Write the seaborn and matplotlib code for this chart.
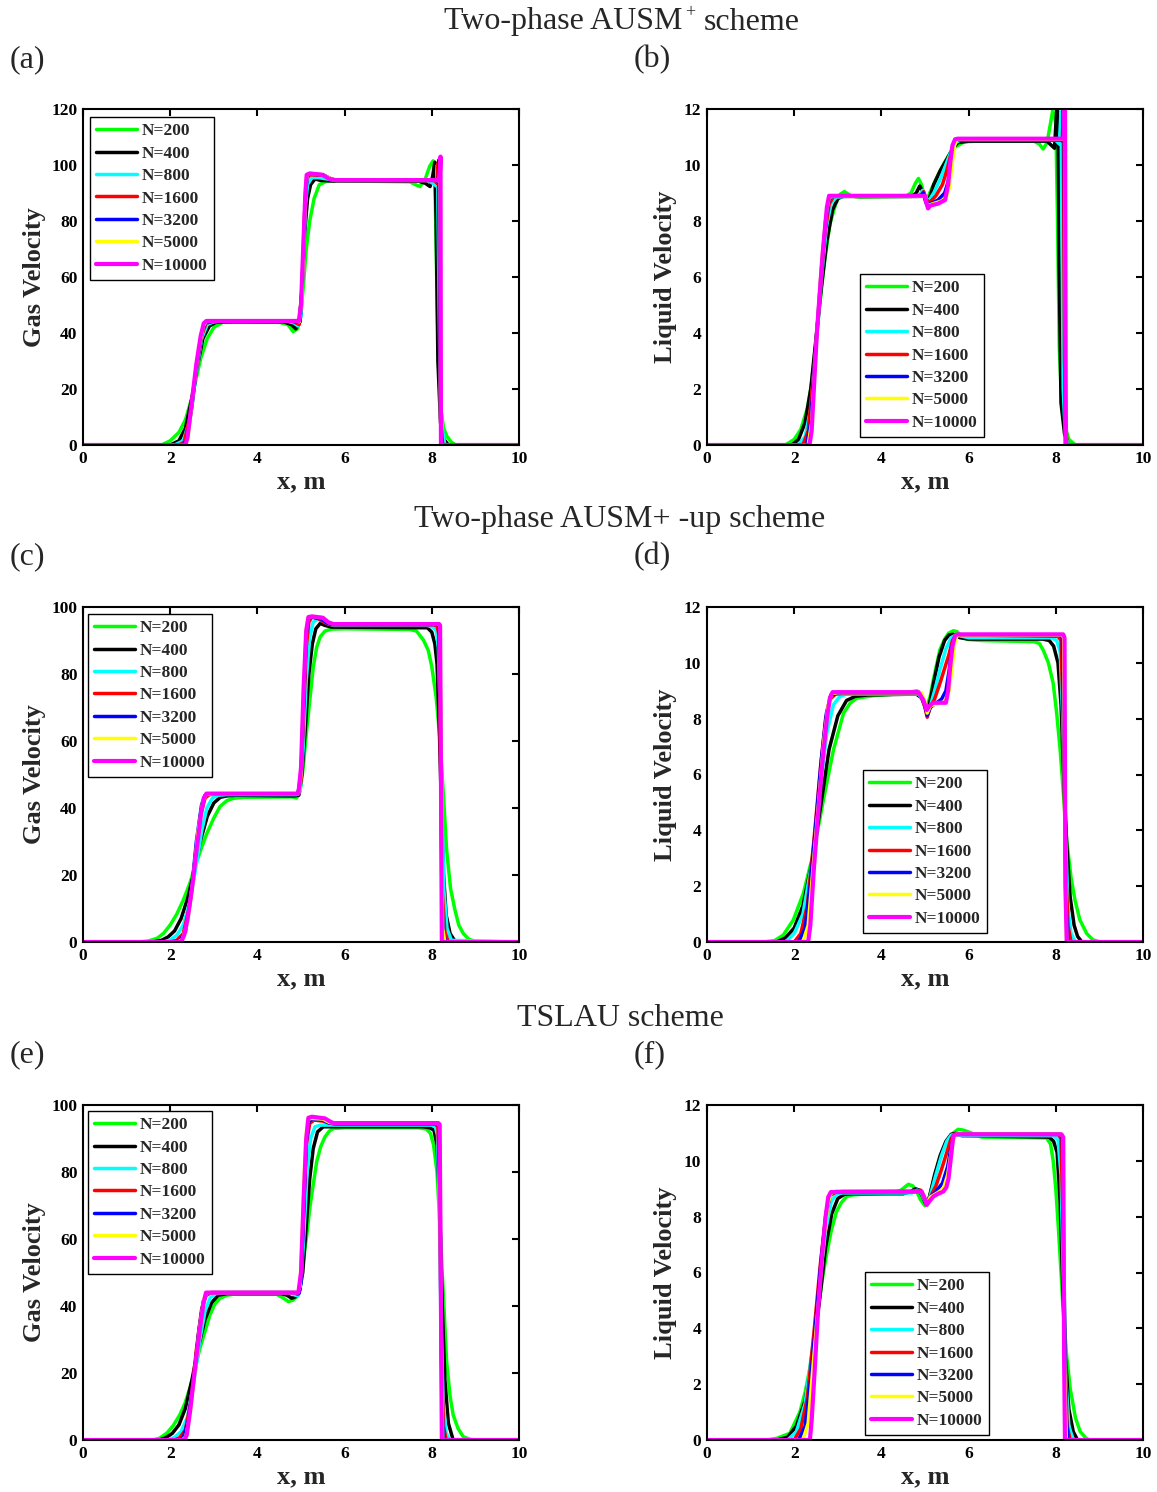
import matplotlib
matplotlib.use('Agg')
import matplotlib.pyplot as plt
import seaborn as sns

# ---------------- data ----------------
labels = ['N=200', 'N=400', 'N=800', 'N=1600', 'N=3200', 'N=5000', 'N=10000']
colors = ['#00ff00', '#000000', '#00ffff', '#ff0000', '#0000ff', '#ffff00', '#ff00ff']
x_ticks = [0, 2, 4, 6, 8, 10]
gas_ticks_a = [0, 20, 40, 60, 80, 100, 120]
gas_ticks = [0, 20, 40, 60, 80, 100]
liq_ticks = [0, 2, 4, 6, 8, 10, 12]

# (a) gas velocity, two-phase AUSM+
a200_x = [0, 1.8, 2.0, 2.2, 2.35, 2.5, 2.6, 2.7, 2.85, 3.0, 3.2, 3.5, 4.5, 4.7, 4.82, 4.92, 5.0, 5.06, 5.12, 5.2, 5.3, 5.42, 5.6, 6.0, 7.5, 7.62, 7.73, 7.85, 7.95, 8.03, 8.07, 8.1, 8.15, 8.2, 8.27, 8.35, 8.45, 8.55, 10]
a200_y = [0, 0, 1.5, 4.5, 9, 17, 24, 31, 38, 42, 43.8, 44, 43.8, 43, 40.5, 41.5, 47, 58, 70, 80, 88, 93, 94.3, 94.3, 94, 93, 92.3, 95, 99.5, 101.5, 97, 70, 30, 14, 6, 3, 1, 0, 0]
a400_x = [0, 2.0, 2.2, 2.35, 2.5, 2.62, 2.75, 2.9, 3.05, 3.3, 4.6, 4.78, 4.88, 4.96, 5.02, 5.08, 5.15, 5.22, 5.32, 5.45, 5.7, 7.7, 7.85, 7.96, 8.02, 8.07, 8.1, 8.14, 8.2, 8.28, 8.38, 10]
a400_y = [0, 0, 1.5, 6, 17, 28, 38, 42.5, 43.8, 44, 44, 43, 41.5, 44, 55, 75, 88, 93, 95, 94.5, 94.3, 94.2, 93.5, 92.3, 96, 101, 80, 30, 8, 2, 0, 0]
a800_x = [0, 2.1, 2.3, 2.45, 2.6, 2.72, 2.85, 3.0, 3.2, 4.7, 4.85, 4.93, 5.0, 5.05, 5.1, 5.15, 5.25, 5.4, 5.6, 5.8, 7.9, 8.02, 8.1, 8.13, 8.16, 8.2, 8.3, 10]
a800_y = [0, 0, 1.5, 9, 26, 38, 43, 44, 44.2, 44.2, 43.5, 42.5, 46, 65, 85, 93, 95.5, 95.5, 95, 94.5, 94.5, 93.5, 92.5, 100, 60, 10, 0, 0]
a1600_x = [0, 2.2, 2.32, 2.45, 2.6, 2.72, 2.82, 3.0, 4.8, 4.9, 4.96, 5.02, 5.08, 5.13, 5.2, 5.5, 5.7, 5.8, 8.05, 8.12, 8.15, 8.17, 8.2, 8.25, 10]
a1600_y = [0, 0, 1, 10, 27, 39, 43.5, 44.2, 44.2, 43.5, 43, 55, 82, 95, 96.5, 96.3, 95, 94.5, 94.5, 93.5, 101, 70, 10, 0, 0]
a3200_x = [0, 2.28, 2.38, 2.5, 2.62, 2.74, 2.82, 3.0, 4.85, 4.93, 4.98, 5.04, 5.1, 5.14, 5.2, 5.5, 5.7, 5.8, 8.1, 8.15, 8.17, 8.19, 8.22, 10]
a3200_y = [0, 0, 1.5, 14, 30, 41, 44, 44.2, 44.2, 43.8, 44, 60, 88, 96, 96.8, 96.5, 95, 94.5, 94.5, 94, 102, 40, 0, 0]
a5000_x = [0, 2.32, 2.4, 2.52, 2.64, 2.76, 2.83, 3.0, 4.9, 4.96, 5.02, 5.07, 5.11, 5.14, 5.2, 5.5, 5.7, 5.8, 8.13, 8.17, 8.19, 8.21, 10]
a5000_y = [0, 0, 1.5, 18, 33, 42.5, 44.2, 44.2, 44.2, 44, 52, 75, 92, 96.5, 97, 96.5, 95, 94.5, 94.5, 94.3, 102.5, 0, 0]
a10000_x = [0, 2.35, 2.4, 2.5, 2.6, 2.7, 2.77, 2.83, 4.95, 5.0, 5.05, 5.1, 5.13, 5.2, 5.5, 5.65, 5.8, 8.18, 8.2, 8.21, 10]
a10000_y = [0, 0, 3, 16, 29, 39, 43.5, 44.3, 44.3, 50, 70, 90, 96.5, 97, 96.5, 95, 94.6, 94.6, 103, 0, 0]

# (b) liquid velocity, two-phase AUSM+
b200_x = [0, 1.8, 2.0, 2.15, 2.3, 2.4, 2.5, 2.6, 2.7, 2.82, 2.95, 3.05, 3.15, 3.3, 3.5, 4.55, 4.68, 4.78, 4.85, 4.92, 4.98, 5.04, 5.15, 5.3, 5.45, 5.57, 5.7, 5.9, 6.2, 7.5, 7.62, 7.71, 7.8, 7.88, 7.93, 8.0, 8.04, 8.08, 8.13, 8.2, 8.3, 8.45, 10]
b200_y = [0, 0, 0.2, 0.55, 1.3, 2.2, 3.7, 5.2, 6.6, 7.9, 8.6, 8.95, 9.05, 8.9, 8.85, 8.88, 9.0, 9.35, 9.52, 9.3, 8.9, 8.75, 9.15, 9.65, 10.1, 10.4, 10.65, 10.83, 10.85, 10.85, 10.75, 10.57, 10.8, 11.5, 11.95, 11.5, 8, 3.5, 1.6, 0.7, 0.2, 0, 0]
b400_x = [0, 1.95, 2.1, 2.25, 2.38, 2.5, 2.62, 2.75, 2.88, 3.0, 3.15, 3.4, 4.7, 4.8, 4.88, 4.95, 5.02, 5.08, 5.2, 5.35, 5.5, 5.62, 5.75, 6.0, 7.8, 7.9, 7.97, 8.02, 8.05, 8.08, 8.12, 8.2, 8.3, 10]
b400_y = [0, 0, 0.2, 0.8, 2.0, 3.8, 5.6, 7.3, 8.4, 8.8, 8.9, 8.88, 8.88, 9.0, 9.25, 9.05, 8.75, 8.7, 9.3, 9.8, 10.2, 10.55, 10.8, 10.85, 10.85, 10.7, 10.6, 11.95, 11.9, 6, 1.5, 0.4, 0, 0]
b800_x = [0, 2.1, 2.25, 2.38, 2.5, 2.62, 2.74, 2.85, 2.97, 3.2, 4.8, 4.88, 4.95, 5.0, 5.08, 5.2, 5.35, 5.5, 5.6, 5.7, 5.8, 6.0, 8.0, 8.08, 8.12, 8.14, 8.17, 8.22, 8.3, 10]
b800_y = [0, 0, 0.3, 1.3, 3.5, 5.9, 7.8, 8.65, 8.85, 8.88, 8.88, 8.95, 9.1, 8.9, 8.7, 9.0, 9.5, 10.1, 10.5, 10.8, 10.88, 10.88, 10.88, 10.75, 11.9, 8, 2, 0.3, 0, 0]
b1600_x = [0, 2.2, 2.32, 2.45, 2.58, 2.7, 2.8, 2.9, 3.1, 4.85, 4.92, 4.97, 5.02, 5.1, 5.25, 5.4, 5.5, 5.58, 5.65, 5.72, 5.85, 8.1, 8.15, 8.17, 8.2, 8.25, 10]
b1600_y = [0, 0, 0.5, 2.6, 5.2, 7.5, 8.6, 8.88, 8.88, 8.88, 8.95, 9.05, 8.8, 8.65, 8.9, 9.3, 9.8, 10.3, 10.75, 10.88, 10.9, 10.9, 10.85, 12, 3, 0, 0]
b3200_x = [0, 2.28, 2.38, 2.5, 2.62, 2.72, 2.8, 2.9, 3.1, 4.9, 4.96, 5.02, 5.1, 5.3, 5.45, 5.53, 5.6, 5.66, 5.72, 5.85, 8.13, 8.17, 8.19, 8.22, 10]
b3200_y = [0, 0, 0.8, 3.6, 6.2, 8.0, 8.8, 8.88, 8.88, 8.88, 9.0, 8.65, 8.6, 8.75, 9.0, 9.4, 10.1, 10.7, 10.88, 10.9, 10.9, 10.9, 12, 0, 0]
b5000_x = [0, 2.32, 2.4, 2.52, 2.64, 2.74, 2.8, 2.9, 3.1, 4.95, 5.0, 5.05, 5.15, 5.35, 5.48, 5.56, 5.62, 5.68, 5.73, 5.85, 8.15, 8.18, 8.2, 8.23, 10]
b5000_y = [0, 0, 0.8, 4.0, 6.7, 8.3, 8.85, 8.88, 8.88, 8.88, 8.9, 8.55, 8.6, 8.7, 8.8, 9.2, 10.0, 10.7, 10.9, 10.92, 10.92, 10.92, 12, 0, 0]
b10000_x = [0, 2.35, 2.4, 2.52, 2.65, 2.75, 2.8, 5.0, 5.04, 5.07, 5.12, 5.3, 5.46, 5.53, 5.58, 5.63, 5.69, 5.75, 8.18, 8.21, 8.23, 10]
b10000_y = [0, 0, 0.5, 4.0, 6.8, 8.5, 8.9, 8.9, 8.6, 8.45, 8.55, 8.62, 8.75, 9.3, 10.1, 10.7, 10.92, 10.94, 10.94, 12.8, 0, 0]

# (c) gas velocity, two-phase AUSM+-up
c200_x = [0, 1.3, 1.5, 1.7, 1.85, 2.0, 2.15, 2.3, 2.45, 2.57, 2.7, 2.84, 3.0, 3.14, 3.3, 3.45, 3.7, 4.8, 4.9, 4.98, 5.05, 5.12, 5.2, 5.28, 5.36, 5.44, 5.55, 5.7, 6.0, 7.5, 7.65, 7.81, 7.92, 8.0, 8.1, 8.19, 8.27, 8.34, 8.43, 8.53, 8.62, 8.72, 8.85, 9.0, 10]
c200_y = [0, 0, 0.3, 1.1, 2.6, 5.1, 8.3, 12.5, 17.5, 22.5, 27.5, 32.4, 37.0, 40.4, 42.2, 42.9, 43.2, 43.3, 43.0, 45, 52, 62, 72, 82, 88, 91.1, 92.8, 93.4, 93.5, 93.3, 92.8, 90.1, 87, 82.2, 73, 60.3, 43, 27.5, 16, 9.6, 5, 2.6, 0.8, 0.2, 0]
c400_x = [0, 1.6, 1.8, 1.95, 2.1, 2.25, 2.4, 2.55, 2.7, 2.85, 3.0, 3.15, 3.3, 3.5, 4.85, 4.95, 5.02, 5.1, 5.18, 5.26, 5.34, 5.44, 5.55, 5.7, 7.9, 8.0, 8.07, 8.12, 8.17, 8.22, 8.27, 8.33, 8.42, 8.52, 8.62, 10]
c400_y = [0, 0, 0.5, 1.5, 3.3, 7, 13, 21, 30.5, 37.5, 41.5, 43.2, 43.6, 43.8, 43.6, 43.8, 50, 64, 80, 89, 93.5, 95.1, 94.5, 94, 93.8, 92.5, 89, 83, 65, 40, 20, 8, 2.5, 0.5, 0, 0]
c800_x = [0, 1.85, 2.0, 2.15, 2.3, 2.45, 2.6, 2.72, 2.84, 2.97, 3.1, 3.3, 4.9, 4.98, 5.05, 5.12, 5.2, 5.28, 5.38, 5.5, 5.62, 5.75, 7.9, 8.02, 8.1, 8.15, 8.19, 8.23, 8.28, 8.35, 8.45, 10]
c800_y = [0, 0, 0.6, 2, 5, 12, 23, 33, 40, 43, 43.8, 44, 44, 45, 58, 78, 91, 95.5, 96.3, 95.8, 95, 94.5, 94.5, 94, 93, 88, 70, 40, 15, 4, 0.5, 0]
c1600_x = [0, 2.0, 2.15, 2.3, 2.45, 2.6, 2.7, 2.8, 2.9, 3.1, 4.92, 5.0, 5.06, 5.12, 5.18, 5.25, 5.4, 5.55, 5.7, 8.05, 8.12, 8.16, 8.2, 8.24, 8.3, 8.38, 10]
c1600_y = [0, 0, 0.5, 2.5, 11, 28, 38, 43, 44, 44.2, 44.2, 48, 68, 88, 95.5, 97, 96.5, 95.3, 94.7, 94.7, 94.3, 92, 55, 15, 3, 0, 0]
c3200_x = [0, 2.1, 2.22, 2.35, 2.48, 2.6, 2.72, 2.8, 2.9, 3.1, 4.93, 5.0, 5.06, 5.12, 5.17, 5.25, 5.45, 5.6, 5.72, 8.12, 8.17, 8.2, 8.23, 8.27, 8.33, 10]
c3200_y = [0, 0, 0.5, 3, 14, 30, 41, 43.8, 44.2, 44.2, 44.2, 50, 72, 92, 96.5, 97, 96.5, 95.2, 94.8, 94.8, 94.5, 70, 15, 2, 0, 0]
c5000_x = [0, 2.18, 2.28, 2.4, 2.52, 2.64, 2.75, 2.82, 3.0, 4.94, 5.0, 5.06, 5.12, 5.16, 5.25, 5.5, 5.65, 5.75, 8.15, 8.19, 8.22, 8.25, 8.3, 10]
c5000_y = [0, 0, 0.8, 6, 18, 33, 42, 44, 44.2, 44.2, 50, 75, 93, 96.8, 97.2, 96.8, 95.3, 94.9, 94.9, 94.5, 40, 4, 0, 0]
c10000_x = [0, 2.25, 2.32, 2.4, 2.5, 2.6, 2.7, 2.77, 2.83, 4.94, 5.0, 5.06, 5.12, 5.17, 5.25, 5.5, 5.62, 5.74, 8.17, 8.19, 8.21, 8.23, 10]
c10000_y = [0, 0, 2, 7, 16, 27, 37.5, 43, 44.3, 44.3, 52, 76, 93, 97, 97.2, 96.8, 95.5, 94.9, 94.9, 94.5, 50, 0, 0]

# (d) liquid velocity, two-phase AUSM+-up
d200_x = [0, 1.3, 1.55, 1.75, 1.98, 2.21, 2.44, 2.67, 2.9, 3.13, 3.28, 3.43, 3.8, 4.5, 4.81, 4.92, 5.04, 5.12, 5.19, 5.34, 5.45, 5.54, 5.65, 5.73, 5.85, 5.96, 6.3, 7.49, 7.62, 7.71, 7.83, 7.94, 8.02, 8.1, 8.18, 8.25, 8.35, 8.44, 8.55, 8.71, 8.85, 9.01, 10]
d200_y = [0, 0, 0.05, 0.25, 0.79, 1.74, 3.18, 5.09, 6.88, 8.19, 8.55, 8.73, 8.82, 8.9, 9.0, 8.85, 8.43, 8.8, 9.38, 10.46, 10.85, 11.06, 11.15, 11.12, 10.95, 10.84, 10.8, 10.76, 10.7, 10.46, 10.0, 9.27, 8.2, 6.88, 5.2, 3.65, 2.3, 1.5, 0.8, 0.3, 0.08, 0, 0]
d400_x = [0, 1.6, 1.8, 2.0, 2.2, 2.4, 2.6, 2.8, 3.0, 3.2, 3.4, 3.7, 4.8, 4.92, 5.04, 5.1, 5.2, 5.32, 5.45, 5.55, 5.65, 5.8, 6.0, 7.7, 7.85, 7.95, 8.05, 8.12, 8.18, 8.25, 8.33, 8.42, 8.5, 8.6, 10]
d400_y = [0, 0, 0.15, 0.5, 1.3, 2.8, 4.8, 6.9, 8.1, 8.65, 8.8, 8.85, 8.88, 8.75, 8.25, 8.5, 9.3, 10.2, 10.8, 11.0, 11.02, 10.9, 10.85, 10.85, 10.8, 10.6, 10.0, 8.5, 6, 3.5, 1.6, 0.6, 0.2, 0, 0]
d800_x = [0, 1.8, 2.0, 2.2, 2.4, 2.6, 2.75, 2.9, 3.05, 3.2, 3.4, 4.85, 4.95, 5.05, 5.12, 5.22, 5.35, 5.48, 5.6, 5.7, 5.85, 6.0, 7.9, 8.02, 8.1, 8.16, 8.22, 8.28, 8.35, 8.45, 10]
d800_y = [0, 0, 0.3, 1.0, 2.8, 5.6, 7.5, 8.5, 8.8, 8.88, 8.88, 8.88, 8.7, 8.2, 8.45, 9.0, 9.8, 10.5, 10.9, 11.0, 10.95, 10.9, 10.9, 10.8, 10.4, 8, 4, 1.2, 0.3, 0, 0]
d1600_x = [0, 2.0, 2.15, 2.3, 2.45, 2.6, 2.72, 2.82, 2.95, 3.1, 4.88, 4.97, 5.05, 5.12, 5.22, 5.35, 5.45, 5.55, 5.63, 5.72, 5.85, 8.05, 8.12, 8.17, 8.22, 8.28, 8.35, 10]
d1600_y = [0, 0, 0.3, 1.3, 3.6, 6.2, 8.0, 8.7, 8.88, 8.9, 8.9, 8.6, 8.05, 8.4, 8.7, 9.3, 9.8, 10.3, 10.8, 11.0, 11.0, 10.95, 10.8, 8, 3, 0.6, 0, 0]
d3200_x = [0, 2.1, 2.25, 2.38, 2.5, 2.62, 2.74, 2.84, 2.95, 3.1, 4.9, 4.98, 5.05, 5.12, 5.25, 5.38, 5.48, 5.56, 5.62, 5.7, 5.85, 8.1, 8.15, 8.19, 8.23, 8.28, 10]
d3200_y = [0, 0, 0.5, 2.2, 4.3, 6.5, 8.2, 8.85, 8.9, 8.92, 8.92, 8.6, 8.12, 8.4, 8.55, 8.7, 9.0, 9.8, 10.6, 11.0, 11.0, 11.0, 10.9, 7, 1.5, 0, 0]
d5000_x = [0, 2.2, 2.32, 2.44, 2.56, 2.68, 2.78, 2.86, 3.0, 4.92, 5.0, 5.05, 5.12, 5.3, 5.45, 5.55, 5.62, 5.68, 5.74, 5.85, 8.14, 8.18, 8.21, 8.25, 10]
d5000_y = [0, 0, 0.6, 2.8, 5.0, 7.2, 8.5, 8.9, 8.93, 8.93, 8.6, 8.2, 8.45, 8.55, 8.6, 9.0, 9.8, 10.7, 11.0, 11.0, 11.0, 10.9, 4, 0, 0]
d10000_x = [0, 2.32, 2.37, 2.45, 2.55, 2.65, 2.75, 2.82, 2.88, 4.85, 4.96, 5.04, 5.1, 5.19, 5.3, 5.48, 5.53, 5.58, 5.63, 5.69, 5.75, 8.17, 8.2, 8.22, 8.25, 10]
d10000_y = [0, 0, 0.6, 2.6, 4.6, 6.5, 8.0, 8.75, 8.95, 8.95, 8.67, 8.31, 8.45, 8.57, 8.57, 8.57, 9.0, 9.9, 10.6, 10.98, 11.02, 11.02, 10.9, 2, 0, 0]

# (e) gas velocity, TSLAU
e200_x = [0, 1.6, 1.75, 1.92, 2.07, 2.22, 2.34, 2.45, 2.57, 2.68, 2.8, 2.91, 3.02, 3.14, 3.3, 3.45, 4.44, 4.58, 4.71, 4.82, 4.94, 5.05, 5.13, 5.21, 5.29, 5.36, 5.45, 5.55, 5.65, 5.74, 6.0, 7.7, 7.88, 7.97, 8.04, 8.12, 8.19, 8.27, 8.34, 8.42, 8.49, 8.6, 8.72, 8.85, 8.95, 10]
e200_y = [0, 0, 0.5, 2.0, 4.3, 7.5, 11, 15.4, 21, 27.4, 32.5, 37.3, 40.5, 42.3, 43.2, 43.5, 43.5, 42.5, 41.3, 41.8, 43.3, 53.2, 61, 70.1, 77, 83.1, 87.5, 90.5, 92.2, 93.0, 93.2, 93.2, 92.8, 91.5, 88.1, 80, 63.2, 42, 23.4, 13, 7.5, 3.5, 1.0, 0.3, 0, 0]
e400_x = [0, 1.75, 1.9, 2.05, 2.2, 2.35, 2.5, 2.65, 2.8, 2.95, 3.1, 3.3, 4.55, 4.68, 4.79, 4.88, 4.96, 5.04, 5.12, 5.2, 5.28, 5.38, 5.51, 5.7, 7.8, 7.95, 8.05, 8.12, 8.18, 8.24, 8.3, 8.38, 8.49, 10]
e400_y = [0, 0, 0.7, 2, 4.5, 9.5, 18, 28, 36, 41, 43.2, 43.7, 43.7, 43.2, 42.3, 42.8, 44, 50, 64, 78, 87, 92, 93.5, 93.5, 93.5, 93.2, 92.5, 88, 70, 40, 18, 5, 0, 0]
e800_x = [0, 1.95, 2.1, 2.25, 2.4, 2.55, 2.68, 2.8, 2.92, 3.05, 3.3, 4.75, 4.85, 4.93, 5.0, 5.07, 5.14, 5.22, 5.32, 5.45, 5.6, 5.75, 8.0, 8.08, 8.13, 8.17, 8.21, 8.26, 8.33, 8.42, 10]
e800_y = [0, 0, 0.8, 2.5, 7, 18, 30, 38.5, 42.5, 43.7, 44, 44, 43.3, 43, 47, 62, 80, 90, 93.5, 94, 94, 94, 94, 93.5, 91, 70, 35, 12, 2, 0, 0]
e1600_x = [0, 2.1, 2.22, 2.35, 2.48, 2.6, 2.72, 2.82, 2.95, 3.1, 4.85, 4.92, 4.98, 5.05, 5.12, 5.2, 5.3, 5.5, 5.65, 5.8, 8.08, 8.14, 8.18, 8.22, 8.27, 8.33, 10]
e1600_y = [0, 0, 0.7, 3, 12, 27, 39, 43.2, 44, 44, 44, 43.5, 45, 65, 88, 94.5, 95.5, 95.2, 94.6, 94.3, 94.3, 93.5, 75, 25, 4, 0, 0]
e3200_x = [0, 2.2, 2.3, 2.42, 2.54, 2.66, 2.76, 2.84, 2.95, 3.1, 4.88, 4.95, 5.0, 5.06, 5.12, 5.18, 5.25, 5.5, 5.65, 5.8, 8.12, 8.17, 8.2, 8.23, 8.28, 10]
e3200_y = [0, 0, 0.8, 6, 18, 33, 41.5, 43.8, 44, 44, 44, 43.7, 47, 68, 89, 95, 95.8, 95.5, 94.6, 94.4, 94.4, 93.5, 60, 10, 0, 0]
e5000_x = [0, 2.28, 2.36, 2.46, 2.57, 2.68, 2.78, 2.85, 3.0, 4.92, 4.98, 5.04, 5.1, 5.15, 5.22, 5.5, 5.65, 5.78, 8.14, 8.18, 8.21, 8.25, 10]
e5000_y = [0, 0, 1, 8, 21, 34, 42.5, 44, 44, 44, 46, 66, 88, 95.5, 96, 95.8, 94.8, 94.5, 94.5, 93.8, 40, 0, 0]
e10000_x = [0, 2.33, 2.38, 2.46, 2.57, 2.68, 2.76, 2.82, 4.94, 5.0, 5.06, 5.12, 5.17, 5.25, 5.55, 5.65, 5.74, 8.15, 8.18, 8.2, 8.23, 10]
e10000_y = [0, 0, 1.5, 9, 21.5, 33, 40.5, 44, 44, 50, 72, 90, 96.2, 96.5, 96, 95.2, 94.6, 94.6, 94.2, 60, 0, 0]

# (f) liquid velocity, TSLAU
f200_x = [0, 1.37, 1.6, 1.9, 2.13, 2.25, 2.36, 2.45, 2.55, 2.65, 2.74, 2.85, 2.97, 3.08, 3.2, 3.35, 3.51, 4.27, 4.45, 4.62, 4.72, 4.81, 4.9, 5.0, 5.1, 5.19, 5.34, 5.45, 5.54, 5.65, 5.76, 5.88, 5.99, 6.3, 7.79, 7.88, 7.94, 8.0, 8.06, 8.12, 8.17, 8.25, 8.33, 8.45, 8.56, 8.7, 8.78, 10]
f200_y = [0, 0, 0.06, 0.24, 1.0, 1.7, 2.57, 3.5, 4.72, 5.8, 6.63, 7.5, 8.18, 8.5, 8.72, 8.78, 8.8, 8.85, 8.95, 9.16, 9.1, 8.9, 8.6, 8.39, 8.7, 9.25, 10.09, 10.5, 10.8, 11.0, 11.13, 11.1, 11.04, 10.85, 10.82, 10.6, 10.0, 9.0, 7.58, 6, 4.6, 3.0, 1.85, 0.8, 0.3, 0.05, 0, 0]
f400_x = [0, 1.6, 1.85, 2.05, 2.25, 2.42, 2.58, 2.72, 2.86, 3.0, 3.15, 3.35, 4.5, 4.65, 4.78, 4.87, 4.95, 5.02, 5.1, 5.22, 5.35, 5.48, 5.6, 5.7, 5.85, 7.85, 7.95, 8.03, 8.1, 8.16, 8.22, 8.3, 8.4, 8.5, 10]
f400_y = [0, 0, 0.1, 0.5, 1.4, 3.0, 5.0, 6.9, 8.1, 8.65, 8.8, 8.82, 8.82, 8.88, 9.0, 8.95, 8.7, 8.45, 8.7, 9.5, 10.2, 10.7, 10.95, 10.98, 10.9, 10.85, 10.7, 10.3, 8.5, 5.5, 3.0, 1.1, 0.3, 0, 0]
f800_x = [0, 1.85, 2.05, 2.25, 2.42, 2.58, 2.72, 2.85, 2.97, 3.1, 3.3, 4.7, 4.82, 4.9, 4.97, 5.04, 5.12, 5.25, 5.38, 5.5, 5.6, 5.7, 5.85, 7.95, 8.05, 8.12, 8.17, 8.23, 8.3, 8.4, 10]
f800_y = [0, 0, 0.3, 1.3, 3.3, 5.6, 7.5, 8.55, 8.8, 8.85, 8.85, 8.85, 8.95, 8.9, 8.65, 8.45, 8.75, 9.5, 10.2, 10.7, 10.92, 10.95, 10.9, 10.9, 10.75, 9.5, 6, 2.2, 0.5, 0, 0]
f1600_x = [0, 2.0, 2.15, 2.3, 2.45, 2.6, 2.72, 2.82, 2.95, 3.1, 4.8, 4.9, 4.97, 5.04, 5.12, 5.25, 5.38, 5.5, 5.6, 5.67, 5.75, 8.05, 8.12, 8.17, 8.21, 8.26, 8.33, 10]
f1600_y = [0, 0, 0.4, 1.5, 3.8, 6.3, 8.0, 8.75, 8.88, 8.9, 8.9, 8.95, 8.75, 8.45, 8.7, 9.1, 9.7, 10.3, 10.8, 10.95, 10.95, 10.95, 10.8, 7.5, 3, 0.5, 0, 0]
f3200_x = [0, 2.1, 2.25, 2.38, 2.5, 2.62, 2.74, 2.83, 2.95, 3.1, 4.85, 4.93, 5.0, 5.04, 5.12, 5.25, 5.4, 5.52, 5.6, 5.67, 5.75, 8.1, 8.15, 8.19, 8.23, 8.28, 10]
f3200_y = [0, 0, 0.5, 2.2, 4.3, 6.5, 8.2, 8.8, 8.9, 8.9, 8.9, 8.9, 8.6, 8.45, 8.7, 8.9, 9.2, 9.8, 10.5, 10.9, 10.95, 10.95, 10.85, 6, 1, 0, 0]
f5000_x = [0, 2.2, 2.32, 2.44, 2.56, 2.68, 2.78, 2.85, 3.0, 4.88, 4.95, 5.0, 5.04, 5.12, 5.28, 5.42, 5.52, 5.6, 5.66, 5.72, 8.12, 8.17, 8.2, 8.24, 10]
f5000_y = [0, 0, 0.6, 2.8, 5.0, 7.2, 8.5, 8.85, 8.9, 8.9, 8.85, 8.6, 8.43, 8.7, 8.85, 9.0, 9.5, 10.3, 10.85, 10.95, 10.95, 10.85, 3, 0, 0]
f10000_x = [0, 2.36, 2.4, 2.47, 2.55, 2.64, 2.72, 2.78, 2.84, 4.92, 4.98, 5.04, 5.1, 5.19, 5.3, 5.42, 5.49, 5.54, 5.6, 5.65, 5.72, 8.13, 8.17, 8.19, 8.21, 10]
f10000_y = [0, 0, 0.7, 2.5, 4.72, 6.6, 8.0, 8.7, 8.88, 8.9, 8.7, 8.42, 8.55, 8.72, 8.82, 8.9, 9.05, 9.37, 10.2, 10.9, 10.95, 10.95, 10.85, 3, 0, 0]

# ---------------- style ----------------
sns.set_theme(style='white')
plt.rcParams.update({
    'font.family': ['Liberation Serif', 'DejaVu Serif'],
    'font.weight': 'bold',
    'axes.edgecolor': 'black',
    'axes.linewidth': 1.5,
    'axes.facecolor': 'white',
    'xtick.direction': 'in',
    'ytick.direction': 'in',
    'xtick.color': 'black',
    'ytick.color': 'black',
})

W, H = 1157, 1492
fig = plt.figure(figsize=(W / 100, H / 100), dpi=100)
fig.patch.set_facecolor('white')


def add_ax(left, top, right, bottom):
    return fig.add_axes([left / W, 1 - bottom / H, (right - left) / W, (bottom - top) / H])


panels = [
    (add_ax(83, 109, 519, 445), [(a200_x, a200_y), (a400_x, a400_y), (a800_x, a800_y), (a1600_x, a1600_y),
                                 (a3200_x, a3200_y), (a5000_x, a5000_y), (a10000_x, a10000_y)],
     (0, 120), gas_ticks_a, 'Gas Velocity', -0.085, ('upper left', (0.016, 0.976))),
    (add_ax(707, 109, 1143, 445), [(b200_x, b200_y), (b400_x, b400_y), (b800_x, b800_y), (b1600_x, b1600_y),
                                   (b3200_x, b3200_y), (b5000_x, b5000_y), (b10000_x, b10000_y)],
     (0, 12), liq_ticks, 'Liquid Velocity', -0.068, ('lower left', (0.351, 0.024))),
    (add_ax(83, 607, 519, 942), [(c200_x, c200_y), (c400_x, c400_y), (c800_x, c800_y), (c1600_x, c1600_y),
                                 (c3200_x, c3200_y), (c5000_x, c5000_y), (c10000_x, c10000_y)],
     (0, 100), gas_ticks, 'Gas Velocity', -0.085, ('upper left', (0.011, 0.979))),
    (add_ax(707, 607, 1143, 942), [(d200_x, d200_y), (d400_x, d400_y), (d800_x, d800_y), (d1600_x, d1600_y),
                                   (d3200_x, d3200_y), (d5000_x, d5000_y), (d10000_x, d10000_y)],
     (0, 12), liq_ticks, 'Liquid Velocity', -0.068, ('lower left', (0.358, 0.027))),
    (add_ax(83, 1105, 519, 1440), [(e200_x, e200_y), (e400_x, e400_y), (e800_x, e800_y), (e1600_x, e1600_y),
                                   (e3200_x, e3200_y), (e5000_x, e5000_y), (e10000_x, e10000_y)],
     (0, 100), gas_ticks, 'Gas Velocity', -0.085, ('upper left', (0.011, 0.982))),
    (add_ax(707, 1105, 1143, 1440), [(f200_x, f200_y), (f400_x, f400_y), (f800_x, f800_y), (f1600_x, f1600_y),
                                     (f3200_x, f3200_y), (f5000_x, f5000_y), (f10000_x, f10000_y)],
     (0, 12), liq_ticks, 'Liquid Velocity', -0.068, ('lower left', (0.362, 0.015))),
]

for ax, series, ylim, yticks, ylabel, ylab_x, (loc, anchor) in panels:
    for (xs, ys), lab, col in zip(series, labels, colors):
        lw = 3.0 if lab == 'N=10000' else 2.5
        sns.lineplot(x=xs, y=ys, ax=ax, color=col, linewidth=lw, label=lab,
                     sort=False, estimator=None)
    ax.set_xlim(0, 10)
    ax.set_ylim(*ylim)
    ax.set_xticks(x_ticks)
    ax.set_yticks(yticks)
    ax.tick_params(axis='both', which='major', direction='in', top=True, right=True,
                   length=5, width=1.5, labelsize=12.5, pad=4, colors='black')
    for t in ax.get_xticklabels() + ax.get_yticklabels():
        t.set_fontweight('bold')
    for s in ax.spines.values():
        s.set_visible(True)
        s.set_color('black')
        s.set_linewidth(1.5)
    ax.grid(False)
    ax.set_xlabel('x, m', fontsize=19, fontweight='bold')
    ax.set_ylabel(ylabel, fontsize=19, fontweight='bold')
    ax.xaxis.set_label_coords(0.5, -0.075)
    ax.yaxis.set_label_coords(ylab_x, 0.5)
    leg = ax.legend(loc=loc, bbox_to_anchor=anchor, borderaxespad=0,
                    prop={'family': 'Liberation Serif', 'weight': 'bold', 'size': 12.5},
                    frameon=True, fancybox=False, framealpha=1, edgecolor='black',
                    borderpad=0.35, labelspacing=0.36, handlelength=2.35, handletextpad=0.3)
    leg.get_frame().set_linewidth(1.0)

# titles and panel letters
title_kw = dict(va='center', fontsize=23, fontweight='normal')
fig.text(683 / W, 1 - 22 / H, 'Two-phase AUSM', ha='right', **title_kw)
fig.text(685 / W, 1 - 13 / H, '+', ha='left', va='center', fontsize=13, fontweight='normal')
fig.text(704 / W, 1 - 22 / H, 'scheme', ha='left', **title_kw)
fig.text(620 / W, 1 - 520 / H, 'Two-phase AUSM+ -up scheme', ha='center', **title_kw)
fig.text(620 / W, 1 - 1018 / H, 'TSLAU scheme', ha='center', **title_kw)
letter_kw = dict(ha='left', va='center', fontsize=23, fontweight='normal')
for lt, px, py in [('(a)', 10, 60), ('(b)', 634, 60), ('(c)', 10, 557), ('(d)', 634, 557),
                   ('(e)', 10, 1055), ('(f)', 634, 1055)]:
    fig.text(px / W, 1 - py / H, lt, **letter_kw)

fig.savefig('out.png', dpi=100, facecolor='white')
